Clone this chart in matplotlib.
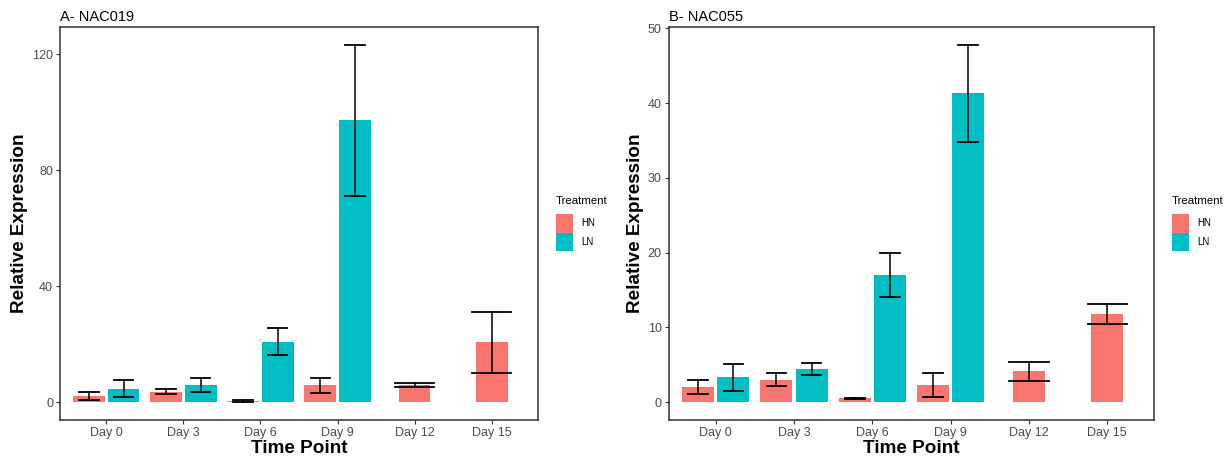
import matplotlib.pyplot as plt
from matplotlib.patches import Patch
import numpy as np

plt.rcParams['font.family'] = ['Liberation Sans', 'DejaVu Sans']

days = ['Day 0', 'Day 3', 'Day 6', 'Day 9', 'Day 12', 'Day 15']
ln_days = ['Day 0', 'Day 3', 'Day 6', 'Day 9']

# panel A - NAC019
a_hn_mean = [2.2, 3.6, 0.4, 5.8, 5.9, 20.6]
a_hn_sd = [1.4, 0.9, 0.4, 2.6, 0.6, 10.4]
a_ln_mean = [4.6, 5.8, 20.8, 97.2]
a_ln_sd = [2.9, 2.4, 4.7, 26.0]

# panel B - NAC055
b_hn_mean = [2.0, 3.0, 0.5, 2.35, 4.1, 11.8]
b_hn_sd = [0.9, 0.9, 0.08, 1.6, 1.25, 1.35]
b_ln_mean = [3.3, 4.4, 17.0, 41.3]
b_ln_sd = [1.85, 0.8, 2.9, 6.5]

HN_COL = '#F8766D'
LN_COL = '#00BFC4'

fig = plt.figure(figsize=(12.32, 4.63), dpi=100)
W, H = 1232, 463


def panel(rect, title, hn_m, hn_s, ln_m, ln_s, yticks, legend_x):
    ax = fig.add_axes(rect)
    x = np.arange(len(days))
    n_ln = len(ln_m)
    bw = 0.41
    off = 0.225
    # HN: dodged where LN exists, centered otherwise
    hn_x = [xi - off if i < n_ln else xi for i, xi in enumerate(x)]
    ln_x = [x[i] + off for i in range(n_ln)]
    ax.bar(hn_x, hn_m, width=bw, color=HN_COL, zorder=2)
    ax.bar(ln_x, ln_m, width=bw, color=LN_COL, zorder=2)
    for xs, m, s, n in [(hn_x, hn_m, hn_s, len(hn_m)), (ln_x, ln_m, ln_s, n_ln)]:
        for i in range(n):
            cap = 0.125 if i < n_ln else 0.25
            lo, hi = m[i] - s[i], m[i] + s[i]
            ax.plot([xs[i], xs[i]], [lo, hi], color='black', lw=1.1, zorder=3)
            ax.plot([xs[i] - cap, xs[i] + cap], [lo, lo], color='black', lw=1.3, zorder=3)
            ax.plot([xs[i] - cap, xs[i] + cap], [hi, hi], color='black', lw=1.3, zorder=3)

    top = max(max(np.add(hn_m, hn_s)), max(np.add(ln_m, ln_s)))
    ax.set_ylim(-0.05 * top, 1.05 * top)
    ax.set_xlim(-0.6, len(days) - 0.4)
    ax.set_xticks(x)
    ax.set_xticklabels(days)
    ax.set_yticks(yticks)
    ax.tick_params(axis='both', labelsize=9, colors='#333333', labelcolor='#4D4D4D',
                   length=3, width=0.8, pad=2)
    for sp in ax.spines.values():
        sp.set_color('#333333')
        sp.set_linewidth(1.1)
    ax.set_xlabel('Time Point', fontsize=13.6, fontweight='bold', labelpad=1)
    ax.set_ylabel('Relative Expression', fontsize=13.6, fontweight='bold', labelpad=3)
    ax.set_title(title, loc='left', fontsize=10.5, pad=4)

    handles = [Patch(facecolor=HN_COL, label='HN'), Patch(facecolor=LN_COL, label='LN')]
    leg = fig.legend(handles=handles, title='Treatment', loc='upper left',
                     bbox_to_anchor=(legend_x / W, 1 - 196 / H), frameon=False,
                     fontsize=7, title_fontsize=8.2, handlelength=1.75, handleheight=2.5,
                     labelspacing=0.0, handletextpad=0.8, borderpad=0, borderaxespad=0,
                     alignment='left')
    leg._legend_box.sep = 6
    return ax


panel([60 / W, 43 / H, 478 / W, 393 / H], 'A- NAC019',
      a_hn_mean, a_hn_sd, a_ln_mean, a_ln_sd, [0, 40, 80, 120], 556)
panel([668.7 / W, 43 / H, 485.6 / W, 393 / H], 'B- NAC055',
      b_hn_mean, b_hn_sd, b_ln_mean, b_ln_sd, [0, 10, 20, 30, 40, 50], 1172)

fig.savefig('out.png', dpi=100)
